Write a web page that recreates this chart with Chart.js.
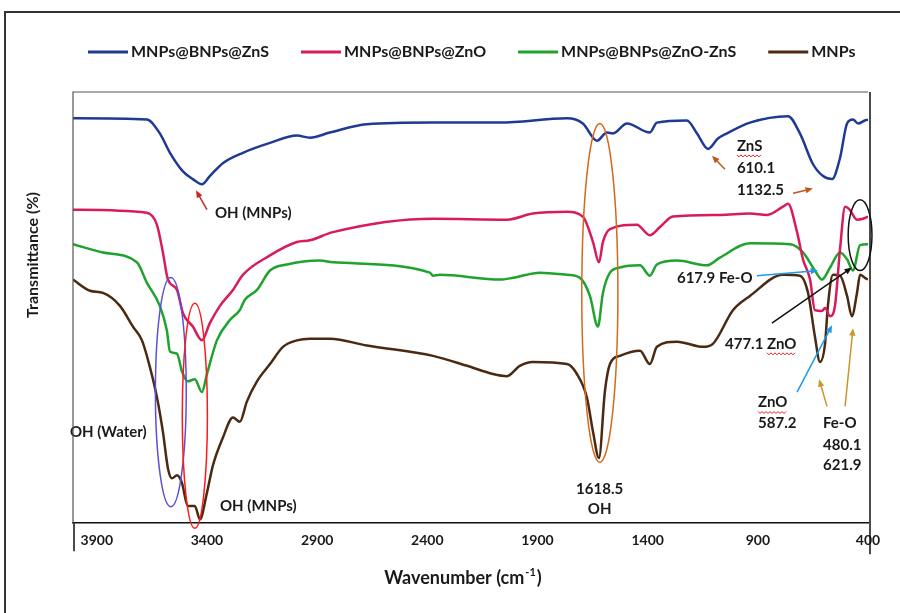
<!DOCTYPE html>
<html lang="en">
<head>
<meta charset="UTF-8" />
<title>FTIR spectra</title>
<script src="https://cdn.jsdelivr.net/npm/chart.js"></script>
<style>
  html, body { margin: 0; padding: 0; background: #fff; }
</style>
</head>
<body>
<canvas id="ftir" width="900" height="613"></canvas>
<script>
// series names / colours
const seriesNames = ['MNPs@BNPs@ZnS', 'MNPs@BNPs@ZnO', 'MNPs@BNPs@ZnO-ZnS', 'MNPs'];
const seriesColors = ['#1f3a93', '#d81b5a', '#1fa22e', '#4a2a12'];

// wavenumber (cm-1) and transmittance (arbitrary %)
const znsWave = [4008,3673,3614,3568,3509,3464,3423,3387,3328,3237,3114,2992,2933,2842,2674,2374,2070,1766,1694,1630,1585,1557,1494,1390,1358,1222,1176,1126,1081,1040,936,763,709,650,604,563,527,495,468,445,414,400];
const znsTrans = [93.9,93.6,90.4,85.9,81.6,79.8,78.6,80.5,83.5,85.9,88.2,89.9,89.4,90.6,92.5,92.9,92.9,93.9,92.7,88.7,90.6,90.4,92.7,90.6,92.9,93.4,90.4,86.8,89.2,90.4,92.9,94.4,90.4,83.3,80.5,79.8,84.7,92.7,93.6,92.7,93.4,93.6];

const znoWave = [4008,3673,3627,3600,3577,3536,3509,3464,3423,3387,3341,3282,3237,3114,2992,2933,2828,2374,2039,1921,1766,1694,1648,1621,1603,1571,1449,1390,1344,1285,1072,936,858,786,763,722,695,663,641,609,595,572,550,527,504,486,450,423,400];
const znoTrans = [72.7,72.0,69.2,62.8,56.5,54.1,48.7,45.6,42.4,46.4,50.4,54.1,57.6,62.1,65.2,65.6,67.5,70.6,70.4,71.8,72.2,71.1,65.2,60.5,65.2,68.2,69.2,66.8,68.7,71.1,71.5,71.8,71.5,73.4,74.1,67.5,61.2,56.5,49.4,49.2,49.9,48.0,50.4,63.5,73.4,72.9,70.4,70.6,71.1];

const mixWave = [4008,3872,3718,3673,3614,3582,3568,3536,3514,3487,3455,3423,3400,3355,3296,3251,3228,3173,3114,3037,2887,2828,2388,2374,2343,2070,2011,1889,1766,1707,1662,1626,1603,1571,1526,1435,1390,1358,1267,1131,1072,936,754,695,641,609,572,527,495,468,436,400];
const mixTrans = [64.7,62.8,60.5,55.8,50.4,44.7,39.8,39.3,35.3,32.9,33.4,30.4,34.6,42.4,47.1,49.4,51.8,54.1,58.6,60.0,60.9,60.5,58.1,57.4,57.6,56.5,56.9,58.1,57.6,56.9,52.7,45.6,53.4,58.1,59.3,59.8,57.4,60.0,60.9,59.8,61.6,64.9,64.7,62.8,58.6,56.5,59.3,62.8,61.2,58.6,64.5,64.7];

const mnpWave = [4008,3931,3872,3795,3736,3695,3659,3627,3600,3577,3559,3536,3514,3487,3455,3432,3400,3373,3328,3282,3251,3219,3173,3114,3055,2992,2933,2842,2674,2374,2220,2102,2039,1980,1921,1766,1721,1676,1648,1621,1594,1571,1526,1435,1390,1358,1267,1149,1104,1013,936,786,709,672,641,618,595,582,559,527,495,473,450,436,414,400];
const mnpTrans = [56.5,53.9,53.4,50.4,45.6,42.4,36.2,29.2,21.2,12.7,10.4,11.1,9.4,4.0,4.0,0.9,7.1,13.4,19.8,24.5,23.5,28.2,32.9,36.9,40.9,42.4,42.8,42.8,41.2,38.8,36.5,34.6,34.1,36.5,37.4,36.9,34.6,29.2,21.2,15.1,30.6,36.9,38.8,40.0,36.9,40.9,42.1,40.9,41.6,49.4,52.7,57.6,57.4,53.4,43.3,37.4,41.6,50.4,57.6,57.4,52.7,48.0,53.4,57.6,56.9,56.5];

const xTicks = [3900, 3400, 2900, 2400, 1900, 1400, 900, 400];

// annotations, in data units (wavenumber, transmittance)
const labels = [
    { text: 'OH (MNPs)', wn: 3364, t: 71.8 },
    { text: 'OH (Water)', wn: 4022, t: 21.2 },
    { text: 'OH (MNPs)', wn: 3341, t: 4.0 },
    { text: '1618.5', wn: 1618, t: 8.0, center: true },
    { text: 'OH', wn: 1618, t: 3.3, center: true },
    { text: 'ZnS', wn: 995, t: 87.5, wavyFrom: 0 },
    { text: '610.1', wn: 995, t: 82.4 },
    { text: '1132.5', wn: 995, t: 77.2 },
    { text: '617.9 Fe-O', wn: 1267, t: 56.9 },
    { text: '477.1 ZnO', wn: 1049, t: 41.6, wavyFrom: 6 },
    { text: 'ZnO', wn: 899, t: 28.0, wavyFrom: 0 },
    { text: '587.2', wn: 899, t: 23.3 },
    { text: 'Fe-O', wn: 604, t: 23.3 },
    { text: '480.1', wn: 604, t: 18.1 },
    { text: '621.9', wn: 604, t: 13.4 }
];
const arrows = [
    { from: [3400, 72.7], to: [3450, 77.2], color: '#c62828' },
    { from: [1049, 82.1], to: [1108, 85.2], color: '#c0561a' },
    { from: [740, 76.5], to: [650, 77.6], color: '#c0561a' },
    { from: [904, 57.4], to: [627, 58.6], color: '#1e9be8' },
    { from: [836, 46.4], to: [473, 59.3], color: '#111111' },
    { from: [722, 30.4], to: [563, 45.9], color: '#1e9be8' },
    { from: [586, 27.1], to: [622, 33.4], color: '#c8962a' },
    { from: [504, 27.1], to: [468, 45.2], color: '#c8962a' }
];
const ellipses = [
    { wn: 3564, t: 30.4, rw: 70, rt: 26.6, color: '#5b4fd6' },
    { wn: 3455, t: 24.9, rw: 57, rt: 26.1, color: '#ff1a1a' },
    { wn: 1617, t: 53.4, rw: 82, rt: 39.3, color: '#d2691e' },
    { wn: 436, t: 66.8, rw: 54, rt: 8.2, color: '#111111' }
];

function points(wave, trans) {
    return wave.map((w, i) => ({ x: w, y: trans[i] }));
}

const FONT = 'Lato, "Open Sans", sans-serif';

function drawArrow(ctx, x1, y1, x2, y2, color) {
    const a = Math.atan2(y2 - y1, x2 - x1);
    ctx.strokeStyle = color;
    ctx.fillStyle = color;
    ctx.lineWidth = 1.5;
    ctx.beginPath();
    ctx.moveTo(x1, y1);
    ctx.lineTo(x2 - 5 * Math.cos(a), y2 - 5 * Math.sin(a));
    ctx.stroke();
    ctx.beginPath();
    ctx.moveTo(x2, y2);
    ctx.lineTo(x2 - 8 * Math.cos(a - 0.4), y2 - 8 * Math.sin(a - 0.4));
    ctx.lineTo(x2 - 8 * Math.cos(a + 0.4), y2 - 8 * Math.sin(a + 0.4));
    ctx.closePath();
    ctx.fill();
}

function drawWavy(ctx, x, y, w) {
    ctx.strokeStyle = '#e02020';
    ctx.lineWidth = 1;
    ctx.beginPath();
    for (let i = 0; i <= w; i += 2) {
        const yy = y + ((i / 2) % 2 === 0 ? 0 : 2);
        if (i === 0) ctx.moveTo(x + i, yy); else ctx.lineTo(x + i, yy);
    }
    ctx.stroke();
}

const decorations = {
    id: 'decorations',
    beforeDraw(chart) {
        const ctx = chart.ctx;
        ctx.save();
        ctx.fillStyle = '#fff';
        ctx.fillRect(0, 0, chart.width, chart.height);
        // outer frame
        ctx.strokeStyle = '#333';
        ctx.lineWidth = 2;
        ctx.beginPath();
        ctx.moveTo(900, 12);
        ctx.lineTo(5, 12);
        ctx.lineTo(5, 613);
        ctx.stroke();

        // legend row, drawn by hand so it stays on one line like the original
        ctx.font = 'bold 16px ' + FONT;
        ctx.textBaseline = 'middle';
        ctx.textAlign = 'left';
        let x = 88;
        const y = 52;
        chart.data.datasets.forEach(ds => {
            ctx.strokeStyle = ds.borderColor;
            ctx.lineWidth = 3;
            ctx.beginPath();
            ctx.moveTo(x, y);
            ctx.lineTo(x + 40, y);
            ctx.stroke();
            ctx.fillStyle = '#1a1a1a';
            ctx.fillText(ds.label, x + 43, y);
            x += 43 + ctx.measureText(ds.label).width + 32;
        });
        ctx.restore();
    },
    afterDatasetsDraw(chart) {
        const ctx = chart.ctx;
        const xs = chart.scales.x, ys = chart.scales.y;
        const px = v => xs.getPixelForValue(v);
        const py = v => ys.getPixelForValue(v);
        ctx.save();

        ellipses.forEach(e => {
            const cx = px(e.wn), cy = py(e.t);
            const rx = Math.abs(px(e.wn + e.rw) - cx);
            const ry = Math.abs(py(e.t + e.rt) - cy);
            ctx.strokeStyle = e.color;
            ctx.lineWidth = 1.5;
            ctx.beginPath();
            ctx.ellipse(cx, cy, rx, ry, 0, 0, Math.PI * 2);
            ctx.stroke();
        });

        arrows.forEach(a => {
            drawArrow(ctx, px(a.from[0]), py(a.from[1]), px(a.to[0]), py(a.to[1]), a.color);
        });

        ctx.font = 'bold 15px ' + FONT;
        ctx.textBaseline = 'middle';
        labels.forEach(l => {
            const w = ctx.measureText(l.text).width;
            let x = px(l.wn);
            if (l.center) x -= w / 2;
            const y = py(l.t);
            ctx.textAlign = 'left';
            ctx.fillStyle = '#1a1a1a';
            ctx.fillText(l.text, x, y);
            if (l.wavyFrom !== undefined) {
                const off = ctx.measureText(l.text.slice(0, l.wavyFrom)).width;
                const ww = ctx.measureText(l.text.slice(l.wavyFrom)).width;
                drawWavy(ctx, x + off, y + 9, ww);
            }
        });
        ctx.restore();
    },
    afterDraw(chart) {
        const ctx = chart.ctx;
        const area = chart.chartArea;
        ctx.save();
        // plot box
        ctx.strokeStyle = '#555';
        ctx.lineWidth = 1.2;
        ctx.beginPath();
        ctx.moveTo(area.left, area.bottom);
        ctx.lineTo(area.left, area.top);
        ctx.lineTo(area.right, area.top);
        ctx.stroke();
        ctx.strokeStyle = '#111';
        ctx.lineWidth = 1.5;
        ctx.beginPath();
        ctx.moveTo(area.right + 2, area.top);
        ctx.lineTo(area.right + 2, area.bottom + 31);
        ctx.moveTo(area.left + 1, area.bottom);
        ctx.lineTo(area.left + 1, area.bottom + 28);
        ctx.stroke();

        // axis titles
        ctx.fillStyle = '#1a1a1a';
        ctx.textBaseline = 'middle';
        ctx.save();
        ctx.translate(33, 255);
        ctx.rotate(-Math.PI / 2);
        ctx.textAlign = 'center';
        ctx.font = 'bold 16px ' + FONT;
        ctx.fillText('Transmittance (%)', 0, 0);
        ctx.restore();

        ctx.font = 'bold 18px ' + FONT;
        const main = 'Wavenumber (cm';
        const sup = '-1';
        const tail = ')';
        const wMain = ctx.measureText(main).width;
        const wTail = ctx.measureText(tail).width;
        ctx.font = 'bold 11px ' + FONT;
        const wSup = ctx.measureText(sup).width;
        const x = 462 - (wMain + wSup + wTail) / 2;
        const y = 578;
        ctx.textAlign = 'left';
        ctx.font = 'bold 18px ' + FONT;
        ctx.fillText(main, x, y);
        ctx.font = 'bold 11px ' + FONT;
        ctx.fillText(sup, x + wMain + 1, y - 6);
        ctx.font = 'bold 18px ' + FONT;
        ctx.fillText(tail, x + wMain + wSup + 2, y);
        ctx.restore();
    }
};

const datasets = [
    points(znsWave, znsTrans),
    points(znoWave, znoTrans),
    points(mixWave, mixTrans),
    points(mnpWave, mnpTrans)
].map((data, i) => ({
    label: seriesNames[i],
    data: data,
    borderColor: seriesColors[i],
    backgroundColor: seriesColors[i],
    borderWidth: 2.5,
    pointRadius: 0,
    cubicInterpolationMode: 'monotone',
    fill: false
}));

new Chart(document.getElementById('ftir'), {
    type: 'line',
    data: { datasets: datasets },
    options: {
        responsive: false,
        animation: false,
        devicePixelRatio: 1,
        layout: { padding: { top: 92, left: 73, right: 32, bottom: 55 } },
        plugins: {
            tooltip: { enabled: false },
            legend: { display: false }
        },
        scales: {
            x: {
                type: 'linear',
                reverse: true,
                min: 400,
                max: 4008,
                afterBuildTicks: axis => {
                    axis.ticks = xTicks.map(v => ({ value: v }));
                },
                grid: { display: false, drawTicks: false },
                border: { display: true, color: '#111', width: 1.5 },
                ticks: {
                    padding: 9,
                    color: '#1a1a1a',
                    maxRotation: 0,
                    autoSkip: false,
                    callback: v => String(v),
                    font: { family: FONT, size: 14, weight: 'bold' }
                }
            },
            y: {
                display: false,
                min: 0,
                max: 100
            }
        }
    },
    plugins: [decorations]
});
</script>
</body>
</html>
